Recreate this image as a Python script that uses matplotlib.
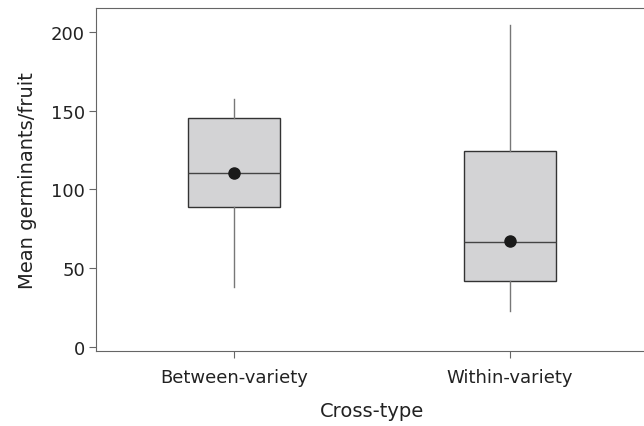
import matplotlib
matplotlib.use("Agg")
import matplotlib.pyplot as plt

categories = ["Between-variety", "Within-variety"]
whisker_low = [38, 23]
q1 = [89, 42]
median = [110.5, 66.5]
q3 = [145, 124.5]
whisker_high = [157.5, 204]
means = [110.5, 67]

plt.rcParams['font.family'] = ['DejaVu Sans']
fig = plt.figure(figsize=(6.44, 4.27), dpi=100)
ax = fig.add_axes([96/644, 75/427, 552/644, 343/427])

stats = []
for i, c in enumerate(categories):
    stats.append(dict(label=c, whislo=whisker_low[i], q1=q1[i], med=median[i],
                      q3=q3[i], whishi=whisker_high[i], mean=means[i], fliers=[]))

positions = list(range(1, len(categories) + 1))
ax.bxp(stats, positions=positions, widths=0.333, patch_artist=True,
       showcaps=False, showmeans=True, showfliers=False,
       boxprops=dict(facecolor="#d3d3d5", edgecolor="#333333", linewidth=1.0),
       medianprops=dict(color="#444444", linewidth=1.0),
       whiskerprops=dict(color="#777777", linewidth=1.0),
       meanprops=dict(marker="o", markerfacecolor="#1a1a1a", markeredgecolor="#1a1a1a", markersize=8))

ax.set_xlim(0.5, 2.5)
ax.set_ylim(-2.5, 215)
ax.set_yticks([0, 50, 100, 150, 200])
ax.set_xticks(positions)
ax.set_xticklabels(categories)
for s in ["left", "bottom", "top"]:
    ax.spines[s].set_color("#666666")
ax.spines["right"].set_visible(False)
ax.tick_params(direction="out", length=5, color="#666666", labelsize=13, labelcolor="#222222")
ax.tick_params(axis="x", pad=7)
ax.tick_params(axis="y", pad=3)
ax.set_xlabel("Cross-type", fontsize=14, color="#222222", labelpad=11)
ax.set_ylabel("Mean germinants/fruit", fontsize=14, color="#222222", labelpad=10)

fig.savefig("out.png", dpi=100)
